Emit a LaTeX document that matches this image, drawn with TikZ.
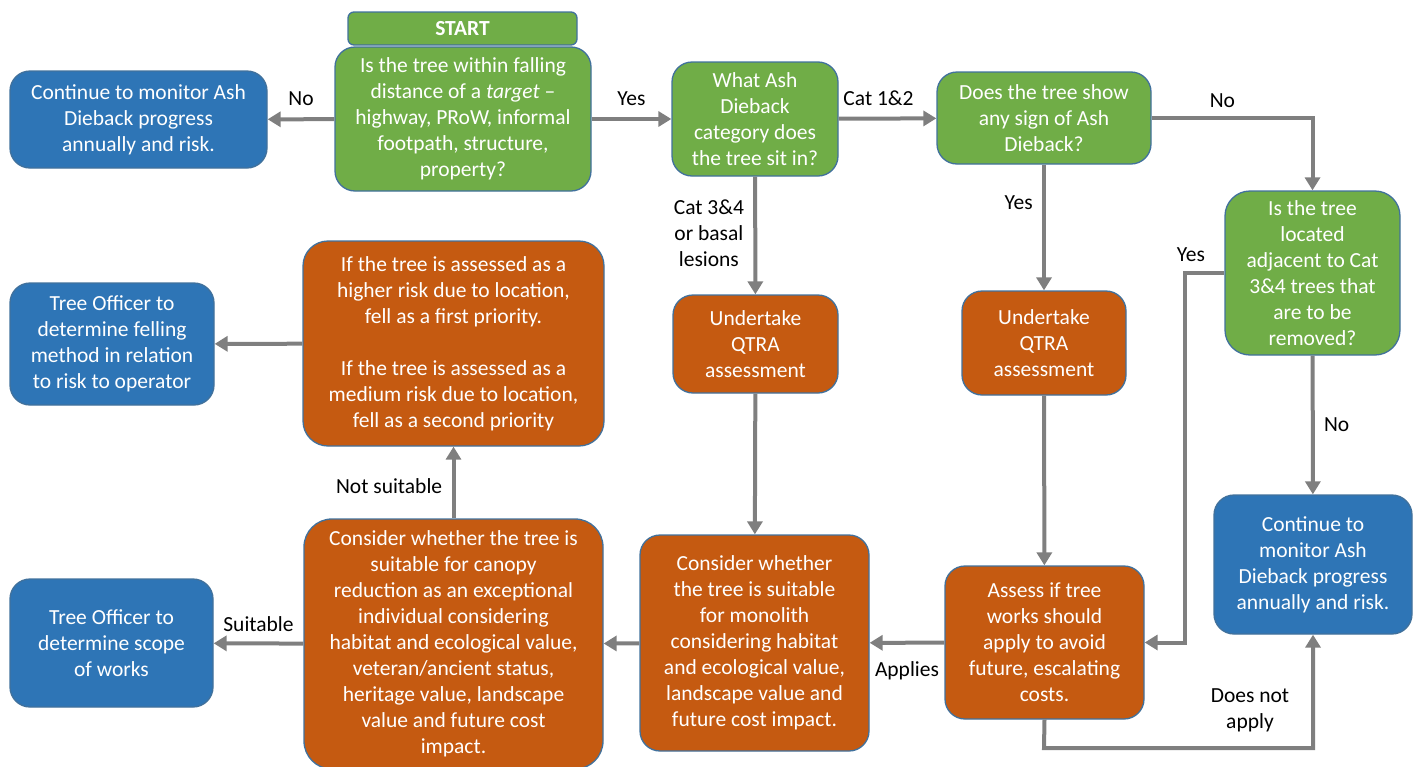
\documentclass[tikz,border=0pt]{standalone}
\usepackage{fontspec}
\setmainfont{Carlito}
\usetikzlibrary{arrows.meta}
\usetikzlibrary{positioning}

\definecolor{leafgreen}{HTML}{70AD47}
\definecolor{rustorange}{HTML}{C55A11}
\definecolor{oceanblue}{HTML}{2E75B6}
\definecolor{edgeblue}{HTML}{41719C}
\definecolor{flowgrey}{HTML}{7F7F7F}

\tikzset{
  box/.style={draw=edgeblue, line width=1.3pt, rounded corners=20pt, text=white,
    align=center, inner sep=0pt, font=\fontsize{21.5}{26}\selectfont},
  decision/.style={box, fill=leafgreen},
  action/.style={box, fill=rustorange},
  outcome/.style={box, fill=oceanblue},
  flow/.style={draw=flowgrey, line width=4pt, -{Triangle[length=13pt,width=15pt]}},
  lab/.style={font=\fontsize{21.5}{26}\selectfont, align=center, text=black}
}

\begin{document}
\begin{tikzpicture}[x=1pt, y=-1pt]
    \useasboundingbox (0, 0) rectangle (1422, 766);

    \node [decision, rounded corners=6pt, minimum width=229pt, minimum height=33pt, font=\fontsize{21.5}{26}\selectfont\bfseries] (start) at (462.5, 28.5) {START};
    \node [decision, minimum width=256pt, minimum height=144pt] (falling) at (463, 119) {Is the tree within falling\\distance of a \textit{target} --\\highway, PRoW, informal\\footpath, structure,\\property?};
    \node [outcome, minimum width=257pt, minimum height=97pt] (monitorleft) at (138.5, 119.5) {Continue to monitor Ash\\Dieback progress\\annually and risk.};
    \node [decision, minimum width=166pt, minimum height=114pt] (category) at (755, 119) {What Ash\\Dieback\\category does\\the tree sit in?};
    \node [decision, minimum width=214pt, minimum height=92pt] (anysign) at (1044, 118) {Does the tree show\\any sign of Ash\\Dieback?};
    \node [decision, rounded corners=25pt, minimum width=175pt, minimum height=164pt] (adjacent) at (1312.5, 273) {Is the tree\\located\\adjacent to Cat\\3\&4 trees that\\are to be\\removed?};
    \node [outcome, minimum width=198pt, minimum height=139pt] (monitorright) at (1313, 564.5) {Continue to\\monitor Ash\\Dieback progress\\annually and risk.};

    \node [action, minimum width=165pt, minimum height=98pt] (qtraleft) at (755.5, 344) {Undertake\\QTRA\\assessment};
    \node [action, minimum width=164pt, minimum height=104pt] (qtraright) at (1044, 343) {Undertake\\QTRA\\assessment};
    \node [action, minimum width=199pt, minimum height=153pt] (costs) at (1044.5, 642.5) {Assess if tree\\works should\\apply to avoid\\future, escalating\\costs.};
    \node [action, minimum width=229pt, minimum height=216pt] (monolith) at (754.5, 643) {Consider whether\\the tree is suitable\\for monolith\\considering habitat\\and ecological value,\\landscape value and\\future cost impact.};
    \node [action, rounded corners=28pt, minimum width=299pt, minimum height=250pt] (canopy) at (453.5, 644) {Consider whether the tree is\\suitable for canopy\\reduction as an exceptional\\individual considering\\habitat and ecological value,\\veteran/ancient status,\\heritage value, landscape\\value and future cost\\impact.};
    \node [action, rounded corners=25pt, minimum width=301pt, minimum height=205pt] (fell) at (453.5, 343.5) {If the tree is assessed as a\\higher risk due to location,\\fell as a first priority.\\[26pt]If the tree is assessed as a\\medium risk due to location,\\fell as a second priority};
    \node [outcome, minimum width=204pt, minimum height=122pt] (felling) at (112, 344) {Tree Officer to\\determine felling\\method in relation\\to risk to operator};
    \node [outcome, minimum width=203pt, minimum height=128pt] (scope) at (111.5, 643) {Tree Officer to\\determine scope\\of works};

    \coordinate (yesbend) at (1185, 273);
    \coordinate (nobend) at (1044, 748);

    \draw [flow] (falling) -- (monitorleft) node [lab, midway, above=8pt] {No};
    \draw [flow] (falling) -- (category) node [lab, midway, above=8pt] {Yes};
    \draw [flow] (category) -- (anysign) node [lab, midway, above=8pt, xshift=-9pt] {Cat 1\&2};
    \draw [flow] (category) -- (qtraleft) node [lab, pos=0.48, left=6pt] {Cat 3\&4\\or basal\\lesions};
    \draw [flow] (anysign.east) -| (adjacent.north) node [lab, pos=0.22, above=5pt] {No};
    \draw [flow] (anysign) -- (qtraright) node [lab, pos=0.3, left=6pt] {Yes};
    \draw [flow] (adjacent) -- (monitorright) node [lab, midway, right=6pt] {No};
    \draw [flow] (adjacent.west) -- (yesbend) node [lab, above=6pt, xshift=6pt] {Yes} |- (costs.east);
    \draw [flow] (qtraright) -- (costs);
    \draw [flow] (qtraleft) -- (monolith);
    \draw [flow] (costs) -- (monolith) node [lab, midway, below=13pt] {Applies};
    \draw [flow] (costs.south) -- (nobend) -| (monitorright.south);
    \node [lab] (notapply) at (1250, 710) {Does not\\apply};
    \draw [flow] (monolith) -- (canopy);
    \draw [flow] (canopy) -- (scope) node [lab, midway, above=6pt] {Suitable};
    \draw [flow] (canopy) -- (fell) node [lab, pos=0.45, left=6pt] {Not suitable};
    \draw [flow] (fell) -- (felling);
  \end{tikzpicture}
\end{document}
